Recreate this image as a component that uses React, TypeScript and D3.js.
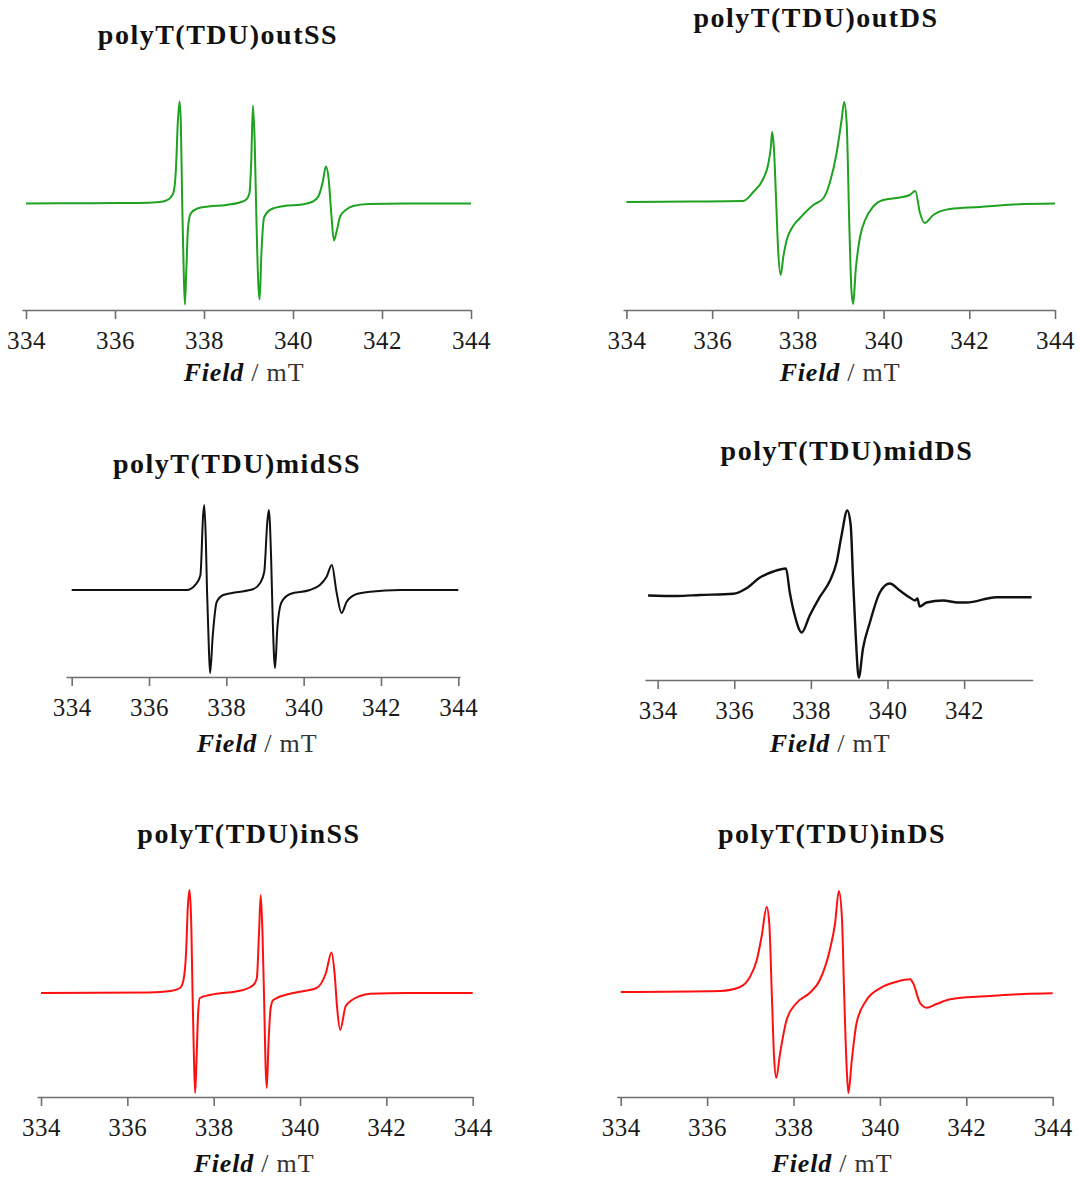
import React, { useEffect, useRef } from 'react';
import * as d3 from 'd3';

// EPR spectra, [field (mT), intensity (a.u.)]
const outSS: [number, number][] = [
  [334.0, 0], [335.5, 0.3], [336.5, 0.5], [337.0, 1.5], [337.15, 3], [337.25, 6], [337.32, 12],
  [337.37, 35], [337.41, 80], [337.45, 102], [337.48, 80], [337.51, 0], [337.54, -60], [337.57, -101],
  [337.6, -70], [337.64, -25], [337.7, -10], [337.85, -5], [338.1, -3], [338.5, -1.5], [338.8, 1],
  [338.95, 4], [339.02, 10], [339.06, 40], [339.1, 98], [339.14, 60], [339.18, -20], [339.22, -80],
  [339.25, -96], [339.29, -50], [339.35, -14], [339.5, -6], [339.8, -2.5], [340.2, -1], [340.45, 2],
  [340.58, 8], [340.67, 22], [340.74, 37], [340.8, 25], [340.86, -10], [340.92, -37], [340.98, -28],
  [341.06, -13], [341.2, -6], [341.35, -2.5], [341.7, -0.5], [342.5, 0], [344.0, 0],
];

const outDS: [number, number][] = [
  [334.0, 0], [335.5, 0.5], [336.72, 1], [336.96, 10], [337.19, 23], [337.31, 38], [337.37, 55],
  [337.4, 70], [337.44, 55], [337.49, 5], [337.54, -48], [337.6, -73], [337.66, -55], [337.74, -38],
  [337.89, -24], [338.05, -16], [338.36, -3], [338.6, 4], [338.75, 20], [338.9, 48], [339.02, 82],
  [339.08, 100], [339.14, 78], [339.2, -22], [339.25, -88], [339.29, -102], [339.35, -68], [339.45, -35],
  [339.58, -17], [339.75, -5], [339.99, 2], [340.38, 4.5], [340.61, 7], [340.74, 11], [340.85, -11],
  [340.96, -21], [341.16, -13], [341.55, -7], [342.25, -5], [343.03, -2.5], [344.0, -1.5],
];

const midSS: [number, number][] = [
  [334.0, 0], [336.97, 0], [337.23, 6.7], [337.33, 15], [337.4, 75], [337.43, 85], [337.47, 50],
  [337.5, 0], [337.55, -60], [337.58, -83], [337.65, -45], [337.75, -12], [337.92, -5], [338.26, -2.3],
  [338.7, 1], [338.87, 6.7], [338.98, 18], [339.06, 68], [339.1, 80], [339.16, 30], [339.2, -30],
  [339.26, -78], [339.32, -38], [339.43, -12], [339.65, -4], [340.16, 0], [340.42, 5], [340.59, 13],
  [340.73, 25], [340.85, -2], [340.98, -23], [341.11, -12], [341.37, -4], [341.72, -1.7], [342.5, 0],
  [344.0, 0],
];

const midDS: [number, number][] = [
  [333.75, 0], [334.5, -0.5], [335.1, 0.5], [335.97, 1.7], [336.32, 7.3], [336.67, 18], [337.02, 24],
  [337.35, 27], [337.45, 3], [337.58, -20], [337.76, -37], [337.97, -20], [338.23, -1.7], [338.5, 15],
  [338.67, 33], [338.8, 60], [338.95, 85], [339.04, 70], [339.1, 17], [339.17, -40], [339.25, -82],
  [339.36, -53], [339.54, -27], [339.8, 3], [340.06, 12], [340.32, 5], [340.58, -2], [340.72, -5],
  [340.78, -3], [340.84, -11], [341.02, -7], [341.45, -5], [341.84, -7], [342.06, -7], [342.84, -1.7],
  [343.76, -1.7],
];

const inSS: [number, number][] = [
  [334.0, 0], [336.5, 0.5], [337.0, 2], [337.22, 5], [337.3, 13], [337.36, 40], [337.4, 85],
  [337.44, 103], [337.48, 70], [337.51, 0], [337.54, -60], [337.57, -100], [337.6, -70], [337.64, -20],
  [337.68, -5], [337.91, -2], [338.68, 3], [338.92, 8], [339.0, 15], [339.05, 60], [339.09, 98],
  [339.13, 60], [339.17, -10], [339.2, -70], [339.23, -95], [339.27, -50], [339.32, -15], [339.38, -7],
  [339.84, 0], [340.38, 5], [340.6, 20], [340.73, 40.6], [340.8, 20], [340.86, -15], [340.93, -37],
  [341.06, -13], [341.39, -3], [341.62, -0.7], [342.5, 0], [344.0, 0],
];

const inDS: [number, number][] = [
  [334.0, 0], [336.3, 1], [336.76, 5], [336.99, 15], [337.15, 32], [337.26, 55], [337.38, 85],
  [337.44, 68], [337.5, -5], [337.55, -65], [337.6, -86], [337.69, -61], [337.84, -28], [338.07, -11],
  [338.38, -0.7], [338.61, 12], [338.84, 42], [338.96, 68], [339.05, 101], [339.12, 75], [339.17, 1.7],
  [339.23, -75], [339.27, -101], [339.35, -68], [339.46, -31], [339.69, -8], [340.0, 3.7], [340.39, 10.3],
  [340.7, 12.7], [340.77, 8.7], [340.93, -11], [341.08, -15.7], [341.31, -12], [341.62, -7.3],
  [341.78, -6.3], [342.55, -4], [343.32, -2], [344.0, -1.3],
];

const titles = [
  'polyT(TDU)outSS', 'polyT(TDU)outDS',
  'polyT(TDU)midSS', 'polyT(TDU)midDS',
  'polyT(TDU)inSS', 'polyT(TDU)inDS',
];
const tickValues = [334, 336, 338, 340, 342, 344];

const GREEN = '#1fa21f';
const BLACK = '#111111';
const RED = '#ff1010';

const panels = [
  { data: outSS, color: GREEN, domain: [333.91, 344], range: [22, 471], axisY: 310, base: 203.5, tx: 218, ty: 44, lx: 244, ly: 381, lw: 2 },
  { data: outDS, color: GREEN, domain: [333.92, 344], range: [623, 1055], axisY: 310, base: 202, tx: 816, ty: 27, lx: 840, ly: 381, lw: 2 },
  { data: midSS, color: BLACK, domain: [333.853, 344.044], range: [66, 460], axisY: 677, base: 590, tx: 237, ty: 473, lx: 257, ly: 752, lw: 2 },
  { data: midDS, color: BLACK, domain: [333.67, 343.79], range: [645, 1032.7], axisY: 680, base: 595.5, tx: 847, ty: 460, lx: 830, ly: 752, lw: 2.4 },
  { data: inSS, color: RED, domain: [333.907, 344], range: [37, 472.7], axisY: 1097, base: 993, tx: 249, ty: 843, lx: 254, ly: 1172, lw: 2 },
  { data: inDS, color: RED, domain: [333.907, 344], range: [616.7, 1052.7], axisY: 1097, base: 992, tx: 832, ty: 843, lx: 832, ly: 1172, lw: 2 },
];

const FONT = '"Liberation Serif", "Times New Roman", serif';

const App = () => {
  const svgRef = useRef<SVGSVGElement>(null);

  useEffect(() => {
    const svg = d3.select(svgRef.current);
    svg.selectAll('*').remove();

    panels.forEach((p, i) => {
      const g = svg.append('g');

      const x = d3.scaleLinear().domain(p.domain).range(p.range);
      const y = d3.scaleLinear().domain([-100, 100]).range([p.base + 100, p.base - 100]);

      // x axis, ticks pointing down
      const ticks = tickValues.filter((t) => t <= p.domain[1]);
      const axis = g
        .append('g')
        .attr('transform', `translate(0,${p.axisY})`)
        .call(d3.axisBottom(x).tickValues(ticks).tickSizeInner(9).tickSizeOuter(0).tickPadding(12).tickFormat(d3.format('d')));
      axis.select('.domain').attr('stroke', '#6e6e6e').attr('stroke-width', 1.6);
      axis.selectAll('.tick line').attr('stroke', '#6e6e6e').attr('stroke-width', 1.6);
      axis
        .selectAll('.tick text')
        .attr('fill', '#1a1a1a')
        .style('font-family', FONT)
        .style('font-size', '25px')
        .style('letter-spacing', '0.5px');

      // spectrum
      const line = d3
        .line<[number, number]>()
        .curve(d3.curveMonotoneX)
        .x((d) => x(d[0]))
        .y((d) => y(d[1]));
      g.append('path')
        .datum(p.data)
        .attr('fill', 'none')
        .attr('stroke', p.color)
        .attr('stroke-width', p.lw)
        .attr('stroke-linejoin', 'round')
        .attr('d', line);

      // title
      g.append('text')
        .attr('x', p.tx)
        .attr('y', p.ty)
        .attr('text-anchor', 'middle')
        .style('font-family', FONT)
        .style('font-size', '28px')
        .style('font-weight', 'bold')
        .style('letter-spacing', '1.5px')
        .attr('fill', '#111')
        .text(titles[i]);

      // axis label
      const lbl = g
        .append('text')
        .attr('x', p.lx)
        .attr('y', p.ly)
        .attr('text-anchor', 'middle')
        .style('font-family', FONT)
        .style('font-size', '26px')
        .style('letter-spacing', '0.8px')
        .attr('fill', '#111');
      lbl.append('tspan').style('font-weight', 'bold').style('font-style', 'italic').text('Field');
      lbl.append('tspan').attr('fill', '#333').text(' / mT');
    });
  }, []);

  return (
    <svg
      ref={svgRef}
      width={1080}
      height={1180}
      style={{ position: 'absolute', left: 0, top: 0, background: '#fff' }}
    />
  );
};

export default App;
